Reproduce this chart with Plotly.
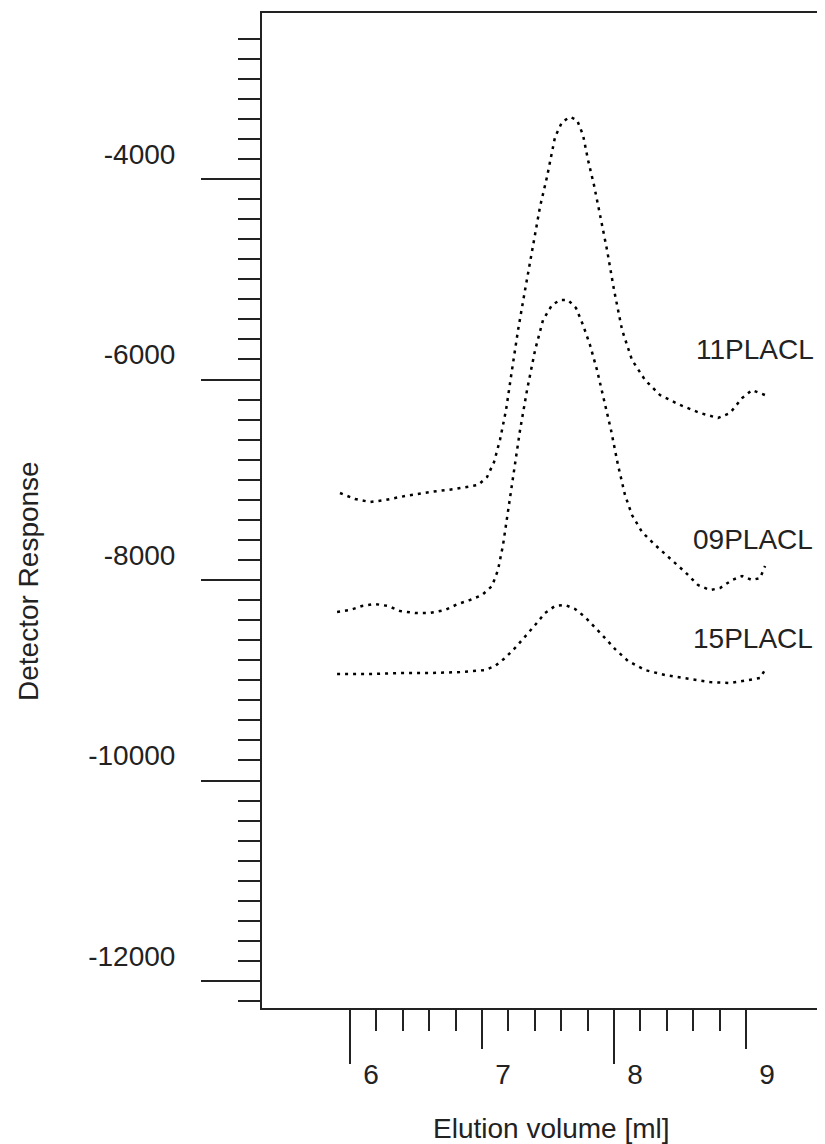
import plotly.graph_objects as go

# ---- data ----
x_11 = [5.924, 6.038, 6.152, 6.265, 6.417, 6.606, 6.795, 6.970, 7.038, 7.091, 7.136, 7.182,
        7.227, 7.273, 7.326, 7.379, 7.439, 7.492, 7.553, 7.606, 7.667, 7.720, 7.765, 7.803,
        7.848, 7.894, 7.947, 8.000, 8.061, 8.136, 8.235, 8.348, 8.500, 8.652, 8.788, 8.879,
        8.970, 9.045, 9.144]
y_11 = [-7132, -7192, -7222, -7202, -7162, -7122, -7092, -7052, -6973, -6823, -6603, -6304,
        -5905, -5506, -5107, -4708, -4279, -3980, -3581, -3431, -3382, -3412, -3561, -3810,
        -4060, -4359, -4708, -5107, -5506, -5805, -6005, -6155, -6254, -6334, -6384, -6334,
        -6185, -6105, -6155]

x_09 = [5.902, 6.000, 6.091, 6.189, 6.288, 6.379, 6.492, 6.606, 6.720, 6.818, 6.909, 7.000,
        7.076, 7.121, 7.159, 7.197, 7.242, 7.288, 7.341, 7.402, 7.462, 7.530, 7.591, 7.652,
        7.712, 7.765, 7.818, 7.871, 7.924, 7.977, 8.030, 8.083, 8.136, 8.212, 8.311, 8.424,
        8.538, 8.636, 8.727, 8.803, 8.894, 8.970, 9.045, 9.106, 9.144]
y_09 = [-8319, -8299, -8259, -8239, -8259, -8309, -8329, -8329, -8299, -8239, -8199, -8150,
        -8060, -7900, -7651, -7302, -6903, -6504, -6105, -5706, -5406, -5257, -5207, -5207,
        -5287, -5456, -5656, -5905, -6204, -6504, -6853, -7152, -7352, -7521, -7651, -7781,
        -7920, -8050, -8100, -8080, -8000, -7960, -8000, -7980, -7860]

x_15 = [5.902, 6.152, 6.379, 6.606, 6.833, 7.023, 7.098, 7.174, 7.250, 7.326, 7.402, 7.477,
        7.553, 7.629, 7.705, 7.780, 7.856, 7.932, 8.008, 8.106, 8.235, 8.386, 8.576, 8.727,
        8.879, 9.015, 9.106, 9.152]
y_15 = [-8938, -8938, -8928, -8928, -8918, -8898, -8858, -8778, -8678, -8569, -8449, -8329,
        -8259, -8249, -8289, -8369, -8469, -8579, -8689, -8808, -8898, -8948, -8988, -9018,
        -9028, -8998, -8978, -8878]

series_names = ["11PLACL", "09PLACL", "15PLACL"]
label_x = [9.068, 9.053, 9.053]
label_y = [-5700, -7600, -8580]

x_major_ticks = [6, 7, 8, 9]
x_long_ticks = [6, 8]
x_minor_ticks = [6.2, 6.4, 6.6, 6.8, 7.2, 7.4, 7.6, 7.8, 8.2, 8.4, 8.6, 8.8]

y_major_ticks = [-3000, -4000, -5000, -6000, -7000, -8000, -9000, -10000, -11000, -12000]
y_major_text = ["", "-4000", "", "-6000", "", "-8000", "", "-10000", "", "-12000"]
y_long_ticks = [-4000, -6000, -8000, -10000, -12000]
y_minor_ticks = [-2600 - 200 * i for i in range(49)]

x_range = [5.3333, 9.598]
y_range = [-12269, -2344]

FONT = "Liberation Sans, Arial, sans-serif"
INK = "#222222"

fig = go.Figure()
for xs, ys in [(x_11, y_11), (x_09, y_09), (x_15, y_15)]:
    fig.add_trace(go.Scatter(x=xs, y=ys, mode="lines",
                             line=dict(color="black", width=2.5, dash="3px,5px"),
                             showlegend=False, hoverinfo="skip"))
# invisible trace to activate overlay axes
fig.add_trace(go.Scatter(x=[None], y=[None], xaxis="x2", yaxis="y2",
                         showlegend=False, hoverinfo="skip"))

for name, lx, ly in zip(series_names, label_x, label_y):
    fig.add_annotation(x=lx, y=ly, xref="x", yref="y", text=name, showarrow=False,
                       font=dict(family=FONT, size=28, color=INK),
                       xanchor="center", yanchor="middle")

fig.add_annotation(x=(28 - 262) / 563, y=(1008 - 581) / 995, xref="paper", yref="paper",
                   text="Detector Response", textangle=-90, showarrow=False,
                   xanchor="center", yanchor="middle",
                   font=dict(family=FONT, size=28, color=INK))
fig.add_annotation(x=(551 - 262) / 563, y=(1008 - 1129) / 995, xref="paper", yref="paper",
                   text="Elution volume [ml]", showarrow=False,
                   xanchor="center", yanchor="middle",
                   font=dict(family=FONT, size=28, color=INK))

fig.update_layout(
    width=817, height=1136,
    margin=dict(l=254, r=0, t=5, b=136),
    paper_bgcolor="white", plot_bgcolor="white",
    font=dict(family=FONT, size=28, color=INK),
    xaxis=dict(range=x_range, showline=True, linewidth=2, linecolor=INK, mirror=True,
               showgrid=False, zeroline=False,
               ticks="outside", tickmode="array", tickvals=x_major_ticks,
               ticktext=[str(v) for v in x_major_ticks],
               ticklen=39, tickwidth=2, tickcolor=INK,
               ticklabelshift=21, ticklabelstandoff=1,
               tickfont=dict(family=FONT, size=28, color=INK),
               minor=dict(tickmode="array", tickvals=x_minor_ticks, ticks="outside",
                          ticklen=21, tickwidth=2, tickcolor=INK, showgrid=False)),
    xaxis2=dict(range=x_range, overlaying="x", anchor="y2", side="bottom",
                showline=False, showgrid=False, zeroline=False,
                ticks="outside", tickmode="array", tickvals=x_long_ticks,
                ticklen=55, tickwidth=2, tickcolor=INK, showticklabels=False),
    yaxis=dict(range=y_range, showline=True, linewidth=2, linecolor=INK, mirror=False,
               showgrid=False, zeroline=False,
               ticks="outside", tickmode="array", tickvals=y_major_ticks,
               ticktext=y_major_text,
               ticklen=43, tickwidth=2, tickcolor=INK,
               ticklabelshift=-25, ticklabelstandoff=36,
               tickfont=dict(family=FONT, size=28, color=INK),
               minor=dict(tickmode="array", tickvals=y_minor_ticks, ticks="outside",
                          ticklen=22, tickwidth=2, tickcolor=INK, showgrid=False)),
    yaxis2=dict(range=y_range, overlaying="y", anchor="x2", side="left",
                showline=False, showgrid=False, zeroline=False,
                ticks="outside", tickmode="array", tickvals=y_long_ticks,
                ticklen=60, tickwidth=2, tickcolor=INK, showticklabels=False),
)

fig.write_html("out.html")
